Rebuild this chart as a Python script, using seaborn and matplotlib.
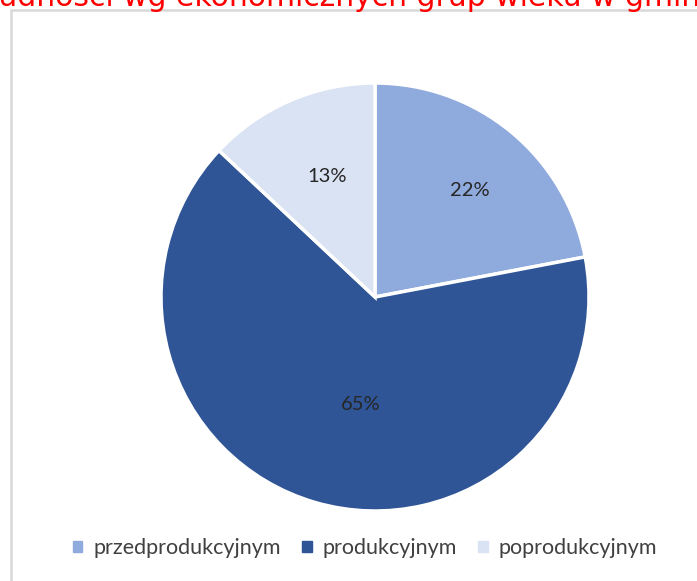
import matplotlib
matplotlib.use("Agg")
import matplotlib.pyplot as plt
import seaborn as sns
from matplotlib.patches import Rectangle

sns.set_theme(style="white")
plt.rcParams["font.family"] = ["Lato", "DejaVu Sans"]

## DATA
groups = ["przedprodukcyjnym", "produkcyjnym", "poprodukcyjnym"]
shares = [22, 65, 13]
colors = ["#8FAADC", "#2F5597", "#DAE3F3"]
title = "Struktura ludności wg ekonomicznych grup wieku w gminie"

W, H = 697, 581
fig = plt.figure(figsize=(W / 100, H / 100), dpi=100)
fig.patch.set_facecolor("white")

# chart frame (open on right/bottom because the screenshot is cropped)
fig.patches.append(Rectangle((11 / W, -0.1), 1.2, (H - 10) / H + 0.1, transform=fig.transFigure,
                             fill=False, edgecolor="#D9D9D9", linewidth=1.8))

# clipped title at the very top (only its lower part shows in the screenshot)
fig.text(-160 / W, 1 - 6 / H, title, color="#FF0000", fontsize=21.5, ha="left", va="baseline",
         family="DejaVu Sans")

# pie axes: centre (375, 297), radius 214 px
cx, cy, r = 375, 297, 214
ax = fig.add_axes([(cx - r) / W, (H - cy - r) / H, 2 * r / W, 2 * r / H])
wedges, _ = ax.pie(shares, colors=colors, startangle=90, counterclock=False,
                   wedgeprops=dict(edgecolor="white", linewidth=2.5))
ax.set_xlim(-1, 1)
ax.set_ylim(-1, 1)
ax.set_aspect("equal")
ax.axis("off")

label_pos = [(470, 190), (361, 404), (327, 176)]
for (px, py), v in zip(label_pos, shares):
    fig.text(px / W, 1 - py / H, f"{v}%", fontsize=14.5, color="#262626", ha="center", va="center")

handles = [Rectangle((0, 0), 1, 1, color=c) for c in colors]
fig.legend(handles, groups, loc="center", bbox_to_anchor=(365 / W, 1 - 548 / H), ncol=3,
           frameon=False, fontsize=15.5, handlelength=0.45, handleheight=0.45,
           handletextpad=0.5, columnspacing=1.0, labelcolor="#404040")

fig.savefig("out.png", dpi=100)
